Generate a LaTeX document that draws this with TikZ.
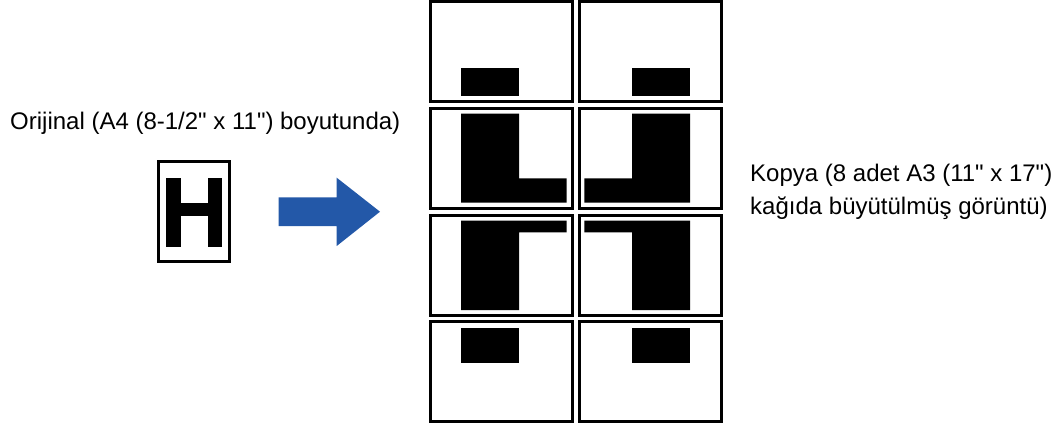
\documentclass[tikz,border=0pt]{standalone}
\usepackage{fontspec}
\setmainfont{Liberation Sans}
\definecolor{okmavi}{RGB}{35,88,168}

\begin{document}
\begin{tikzpicture}[x=1pt, y=-1pt]
    \useasboundingbox (0,0) rectangle (1056,428);
    \tikzset{yazi/.style={font=\fontsize{24}{33.5}\selectfont, inner sep=0pt}}
    % Orijinal
    \node[yazi, anchor=base west] (orijinal) at (10,129.5)
        {Orijinal (A4 (8-1/2\textquotedbl{} x 11\textquotedbl) boyutunda)};
    \draw[line width=3pt] (158.8,161.5) rectangle (229.2,261.8);
    \fill (166,178.3) rectangle (180.7,247.3);
    \fill (207.7,178.3) rectangle (222.3,247.3);
    \fill (180.6,203.3) rectangle (207.8,216);
    % Ok
    \fill[okmavi] (278.7,197.3) -- (336.7,197.3) -- (336.7,177.7) -- (380,211.7)
        -- (336.7,246) -- (336.7,226) -- (278.7,226) -- cycle;
    % Kopya sayfalari (4 x 2)
    \foreach \r in {0,1,2,3} {
        \foreach \c in {0,1} {
            \draw[line width=3pt] (430+149*\c, 1.5+106.8*\r) rectangle ++(142,100);
        }
    }
    % Buyutulmus H parcalari (sag sutun aynalanmis)
    \foreach \m/\k in {1/0, -1/1151} {
        \begin{scope}[xshift=\k pt, xscale=\m]
            \fill (461,68) rectangle (519,96);
            \fill (461,113.7) -- (519,113.7) -- (519,178.3) -- (566.7,178.3)
                -- (566.7,202.7) -- (461,202.7) -- cycle;
            \fill (461,310) -- (461,220.7) -- (566.7,220.7) -- (566.7,232.3)
                -- (519,232.3) -- (519,310) -- cycle;
            \fill (461,328) rectangle (519,362.7);
        \end{scope}
    }
    % Kopya
    \node[yazi, anchor=base west, align=left] (kopya) at (750,214.5)
        {Kopya (8 adet A3 (11\textquotedbl{} x 17\textquotedbl)\\kağıda büyütülmüş görüntü)};
\end{tikzpicture}
\end{document}
